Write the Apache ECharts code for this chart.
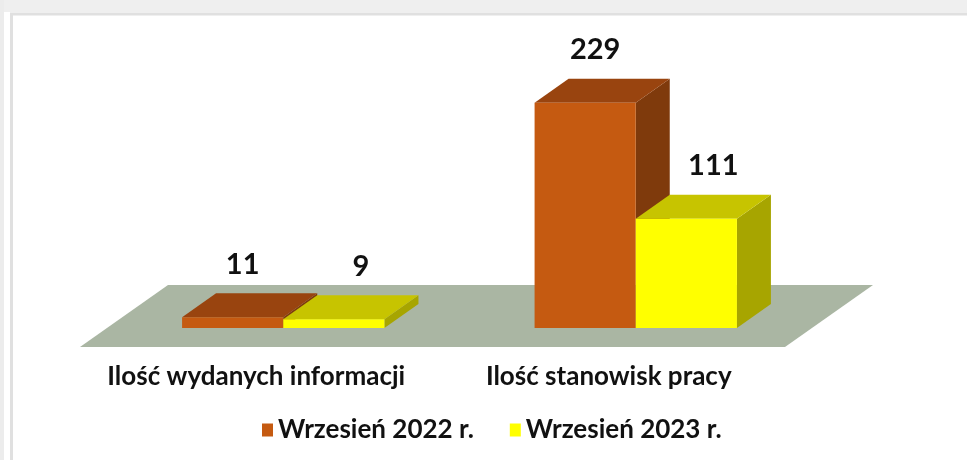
<!DOCTYPE html>
<html>
<head>
<meta charset="utf-8">
<script src="https://cdn.jsdelivr.net/npm/echarts@6/dist/echarts.min.js"></script>
<style>
  html, body { margin: 0; padding: 0; background: #fff; }
  #chart { width: 967px; height: 460px; }
</style>
</head>
<body>
<div id="chart"></div>
<script>
// data
const categories = ["Ilość wydanych informacji", "Ilość stanowisk pracy"];
const seriesNames = ["Wrzesień 2022 r.", "Wrzesień 2023 r."];
const values2022 = [11, 229];
const values2023 = [9, 111];

// faces: front, top, side
const palette = [
  { front: "#c55a11", top: "#99440f", side: "#7f3a0c" },
  { front: "#ffff00", top: "#c7c400", side: "#a7a500" }
];
const DEPTH = [34, -24];      // bar depth vector (px)
const FLOOR_GAP = [27, -19];  // floor front edge -> bar front
const FONT = "Lato, 'Open Sans', sans-serif";

const chart = echarts.init(document.getElementById("chart"));

function barRenderer(seriesIdx) {
  const col = palette[seriesIdx];
  return function (params, api) {
    const cat = api.value(0);
    const base = api.coord([cat, 0]);
    const top = api.coord([cat, api.value(1)]);
    const band = api.size([1, 0])[0];
    const w = band * 0.287;
    const x0 = seriesIdx === 0 ? base[0] - w : base[0];
    const ty = top[1], by = base[1];
    const [dx, dy] = DEPTH;
    return {
      type: "group",
      children: [
        { type: "polygon", shape: { points: [[x0 + w, ty], [x0 + w, by], [x0 + w + dx, by + dy], [x0 + w + dx, ty + dy]] },
          style: { fill: col.side } },
        { type: "polygon", shape: { points: [[x0, ty], [x0 + w, ty], [x0 + w + dx, ty + dy], [x0 + dx, ty + dy]] },
          style: { fill: col.top } },
        { type: "rect", shape: { x: x0, y: ty, width: w, height: by - ty },
          style: { fill: col.front } },
        { type: "text", x: x0 + w / 2 + (seriesIdx === 0 ? 10 : 27), y: ty - 53,
          style: { text: String(api.value(1)), font: "bold 29px " + FONT, fill: "#111",
                   align: "center", verticalAlign: "middle" } }
      ]
    };
  };
}

chart.setOption({
  animation: false,
  backgroundColor: "#fff",
  graphic: [
    { type: "rect", z: 0, shape: { x: 0, y: 0, width: 967, height: 12 }, style: { fill: "#efefef" } },
    { type: "rect", z: 0, shape: { x: 0, y: 0, width: 4, height: 460 }, style: { fill: "#ececec" } },
    { type: "rect", z: 0, shape: { x: 11.5, y: 14, width: 1000, height: 500 },
      style: { fill: "none", stroke: "#e0e0e0", lineWidth: 3 } }
  ],
  grid: { left: 107, right: 155, top: 82, bottom: 132 },
  xAxis: {
    type: "category",
    data: categories,
    axisLine: { show: false },
    axisTick: { show: false },
    axisLabel: {
      interval: 0,
      margin: 36,
      padding: [0, 54, 0, 0],
      fontFamily: FONT, fontWeight: "bold", fontSize: 26, color: "#111"
    }
  },
  yAxis: { type: "value", min: 0, max: 250, show: false },
  legend: {
    data: seriesNames,
    top: 417,
    left: 262,
    icon: "rect",
    itemWidth: 11,
    itemHeight: 13,
    itemGap: 36,
    padding: 0,
    textStyle: { fontFamily: FONT, fontWeight: "bold", fontSize: 26, color: "#111" }
  },
  series: [
    {
      type: "custom",
      name: "floor",
      z: 1,
      silent: true,
      data: [[0]],
      renderItem: function (params, api) {
        const cs = params.coordSys;
        const fy = cs.y + cs.height - FLOOR_GAP[1];
        const fx0 = cs.x - FLOOR_GAP[0];
        const fx1 = cs.x + cs.width - FLOOR_GAP[0];
        const ddx = DEPTH[0] + 2 * FLOOR_GAP[0];
        const ddy = DEPTH[1] + 2 * FLOOR_GAP[1];
        return {
          type: "polygon",
          shape: { points: [[fx0, fy], [fx1, fy], [fx1 + ddx, fy + ddy], [fx0 + ddx, fy + ddy]] },
          style: { fill: "#aab6a3" }
        };
      }
    },
    {
      type: "custom", name: seriesNames[0], z: 2,
      itemStyle: { color: palette[0].front },
      data: values2022.map((v, i) => [i, v]),
      renderItem: barRenderer(0)
    },
    {
      type: "custom", name: seriesNames[1], z: 3,
      itemStyle: { color: palette[1].front },
      data: values2023.map((v, i) => [i, v]),
      renderItem: barRenderer(1)
    }
  ]
});
</script>
</body>
</html>
